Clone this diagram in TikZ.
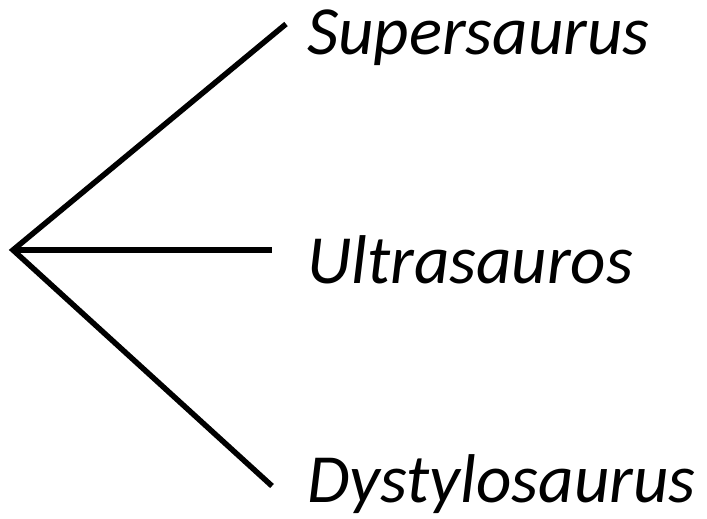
\documentclass[tikz,border=0pt]{standalone}
\usepackage{fontspec}
\setmainfont{Carlito}
\begin{document}
\begin{tikzpicture}[x=1pt,y=-1pt,
  branch/.style={line width=5.5pt,line cap=butt,line join=miter},
  taxon/.style={anchor=base west,inner sep=0pt,font=\fontsize{69}{69}\selectfont\itshape}]
\useasboundingbox (0,0) rectangle (707,519);
\coordinate (root) at (13,250);
\coordinate (a) at (286,24);
\coordinate (b) at (272,250);
\coordinate (c) at (272,486);
\draw[branch] (a) -- (root) -- (c);
\draw[branch] (root) -- (b);
\node[taxon] (t1) at (307,55) {Supersaurus};
\node[taxon] (t2) at (307,283) {Ultrasauros};
\node[taxon] (t3) at (307,502) {Dystylosaurus};
\end{tikzpicture}
\end{document}
